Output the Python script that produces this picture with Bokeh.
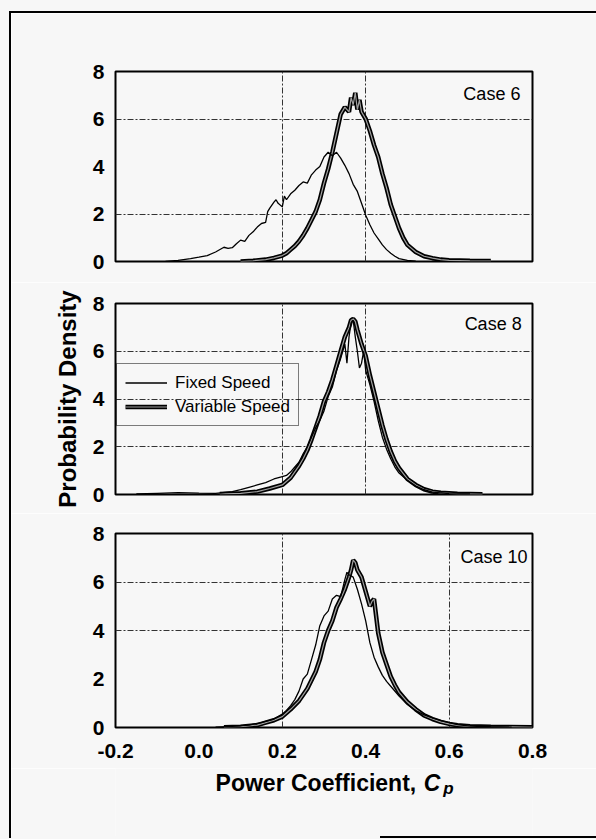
from bokeh.plotting import figure
from bokeh.layouts import column, row
from bokeh.models import (Range1d, FixedTicker, Label, Legend, LegendItem,
                          NumeralTickFormatter, Spacer)
from bokeh.embed import file_html
from bokeh.resources import INLINE

BG = "#f7f7f7"
FONT = "Liberation Sans"

# ---------------- data ----------------
x_ticks = [-0.2, 0.0, 0.2, 0.4, 0.6, 0.8]
y_ticks = [0, 2, 4, 6, 8]

# Case 6
c6_fixed_x = [-0.08, -0.05, -0.02, 0.0, 0.02, 0.04, 0.06, 0.07, 0.08, 0.09, 0.10, 0.11, 0.12, 0.13,
              0.14, 0.15, 0.16, 0.165, 0.17, 0.18, 0.185, 0.19, 0.20, 0.205, 0.21, 0.22, 0.23, 0.24,
              0.25, 0.26, 0.27, 0.28, 0.29, 0.30, 0.31, 0.32, 0.33, 0.34, 0.35, 0.36, 0.37, 0.38,
              0.39, 0.40, 0.41, 0.42, 0.43, 0.44, 0.45, 0.46, 0.47, 0.48, 0.50, 0.52]
c6_fixed_y = [0.0, 0.05, 0.12, 0.18, 0.25, 0.4, 0.6, 0.55, 0.58, 0.75, 0.9, 0.85, 1.1, 1.25,
              1.45, 1.6, 1.65, 2.1, 2.25, 2.5, 2.6, 2.45, 2.3, 2.75, 2.6, 2.85, 3.0, 3.2,
              3.35, 3.3, 3.65, 3.85, 4.0, 4.4, 4.6, 4.45, 4.6, 4.35, 4.05, 3.7, 3.25, 2.95,
              2.45, 1.95, 1.55, 1.2, 0.95, 0.7, 0.5, 0.35, 0.22, 0.12, 0.05, 0.01]
c6_var_x = [0.10, 0.13, 0.16, 0.18, 0.20, 0.21, 0.22, 0.23, 0.24, 0.25, 0.26, 0.27, 0.28, 0.29,
            0.30, 0.31, 0.32, 0.33, 0.34, 0.35, 0.36, 0.365, 0.37, 0.375, 0.38, 0.385, 0.39, 0.40,
            0.41, 0.42, 0.43, 0.44, 0.45, 0.46, 0.47, 0.48, 0.49, 0.50, 0.52, 0.54, 0.56, 0.58,
            0.60, 0.65, 0.70]
c6_var_y = [0.0, 0.03, 0.08, 0.15, 0.25, 0.35, 0.5, 0.65, 0.85, 1.1, 1.4, 1.75, 2.1, 2.6,
            3.3, 3.9, 4.6, 5.4, 6.2, 6.5, 6.3, 6.9, 6.6, 7.1, 6.4, 6.8, 6.3, 6.0,
            5.5, 4.9, 4.4, 3.7, 3.1, 2.4, 1.9, 1.4, 1.0, 0.7, 0.4, 0.22, 0.14, 0.08,
            0.05, 0.03, 0.02]

# Case 8
c8_fixed_x = [-0.15, -0.10, -0.05, 0.0, 0.04, 0.08, 0.10, 0.12, 0.14, 0.16, 0.18, 0.20, 0.21,
              0.22, 0.23, 0.24, 0.25, 0.26, 0.27, 0.28, 0.29, 0.30, 0.31, 0.32, 0.33, 0.34,
              0.35, 0.355, 0.36, 0.365, 0.37, 0.375, 0.38, 0.385, 0.39, 0.395, 0.40, 0.41,
              0.42, 0.43, 0.44, 0.45, 0.46, 0.47, 0.48, 0.50, 0.52, 0.54, 0.56, 0.60, 0.65]
c8_fixed_y = [0.02, 0.05, 0.08, 0.06, 0.05, 0.12, 0.2, 0.3, 0.4, 0.5, 0.65, 0.75, 0.8,
              0.95, 1.15, 1.35, 1.7, 2.0, 2.4, 2.8, 3.1, 3.5, 4.1, 4.5, 5.2, 5.7,
              6.3, 5.5, 6.6, 7.2, 7.3, 6.6, 6.0, 5.3, 5.5, 6.0, 5.2, 4.6,
              3.9, 3.1, 2.4, 1.9, 1.5, 1.15, 0.9, 0.6, 0.35, 0.2, 0.1, 0.04, 0.02]
c8_var_x = [0.05, 0.10, 0.14, 0.17, 0.20, 0.22, 0.24, 0.25, 0.26, 0.27, 0.28, 0.29, 0.30,
            0.31, 0.32, 0.33, 0.34, 0.35, 0.36, 0.365, 0.37, 0.375, 0.38, 0.39, 0.40, 0.41,
            0.42, 0.43, 0.44, 0.45, 0.46, 0.47, 0.48, 0.50, 0.52, 0.54, 0.56, 0.58, 0.62, 0.68]
c8_var_y = [0.02, 0.05, 0.12, 0.25, 0.4, 0.7, 1.2, 1.5, 1.85, 2.3, 2.8, 3.3, 3.9,
            4.3, 4.8, 5.4, 6.0, 6.6, 7.0, 7.3, 7.35, 7.25, 6.9, 6.3, 5.8, 5.0,
            4.3, 3.6, 2.9, 2.3, 1.8, 1.4, 1.1, 0.65, 0.4, 0.22, 0.12, 0.07, 0.03, 0.01]

# Case 10
c10_fixed_x = [0.04, 0.08, 0.12, 0.15, 0.18, 0.20, 0.21, 0.22, 0.23, 0.24, 0.25, 0.26, 0.27,
               0.28, 0.285, 0.29, 0.30, 0.31, 0.32, 0.33, 0.34, 0.35, 0.355, 0.36, 0.37, 0.38,
               0.39, 0.40, 0.41, 0.42, 0.43, 0.44, 0.45, 0.46, 0.48, 0.50, 0.52, 0.54, 0.56,
               0.58, 0.60, 0.62, 0.65, 0.70, 0.75]
c10_fixed_y = [0.01, 0.05, 0.1, 0.2, 0.35, 0.55, 0.7, 0.9, 1.15, 1.5, 2.0, 2.2, 2.8,
               3.4, 3.8, 4.2, 4.6, 4.8, 5.3, 5.45, 5.4, 6.1, 6.4, 6.3, 6.2, 5.7,
               5.1, 4.4, 3.5, 2.9, 2.5, 2.15, 1.9, 1.7, 1.3, 0.95, 0.7, 0.52, 0.4,
               0.28, 0.2, 0.12, 0.06, 0.03, 0.01]
c10_var_x = [0.06, 0.10, 0.14, 0.16, 0.18, 0.20, 0.22, 0.24, 0.26, 0.28, 0.29, 0.30, 0.31,
             0.32, 0.33, 0.34, 0.35, 0.36, 0.365, 0.37, 0.375, 0.38, 0.39, 0.40, 0.41, 0.415,
             0.42, 0.425, 0.43, 0.44, 0.45, 0.46, 0.47, 0.48, 0.50, 0.52, 0.54, 0.56, 0.58,
             0.60, 0.62, 0.65, 0.70, 0.80]
c10_var_y = [0.01, 0.03, 0.1, 0.2, 0.3, 0.45, 0.75, 1.1, 1.6, 2.3, 2.8, 3.5, 4.0,
             4.4, 4.95, 5.3, 5.7, 6.2, 6.5, 6.9, 6.8, 6.5, 6.2, 5.6, 5.0, 5.2,
             5.3, 4.6, 3.9, 3.1, 2.6, 2.1, 1.75, 1.45, 1.05, 0.75, 0.5, 0.35, 0.23,
             0.15, 0.09, 0.05, 0.03, 0.01]

case_names = ["Case 6", "Case 8", "Case 10"]
legend_labels = ["Fixed Speed", "Variable Speed"]
y_label = "Probability Density"
x_label_main = "Power Coefficient,"
x_label_sym = "C"
x_label_sub = "p"

# per-panel visible grid lines (as in the scanned original)
grid_x = [[0.2, 0.4], [0.2, 0.4], [0.2, 0.6]]
grid_y = [[2, 6], [2, 4, 6], [4, 6]]

FIG_W = 585
BL, BR = 104, 64


def make_panel(height, top, bottom, show_x):
    p = figure(width=FIG_W, height=height,
               x_range=Range1d(-0.2, 0.8), y_range=Range1d(0, 8),
               output_backend="svg", toolbar_location=None,
               min_border_left=BL, min_border_right=BR,
               min_border_top=top, min_border_bottom=bottom,
               x_axis_location="below" if show_x else None,
               background_fill_color=BG, border_fill_color=BG)
    p.outline_line_color = "black"
    p.outline_line_width = 2
    p.yaxis.ticker = FixedTicker(ticks=y_ticks)
    p.yaxis.axis_line_color = None
    p.yaxis.major_tick_line_color = None
    p.yaxis.minor_tick_line_color = None
    p.yaxis.major_tick_out = 0
    p.yaxis.major_label_standoff = 11
    p.yaxis.major_label_text_font = FONT
    p.yaxis.major_label_text_font_style = "bold"
    p.yaxis.major_label_text_font_size = "21px"
    p.yaxis.major_label_text_color = "black"
    if show_x:
        p.xaxis.ticker = FixedTicker(ticks=x_ticks)
        p.xaxis.formatter = NumeralTickFormatter(format="0.0")
        p.xaxis.axis_line_color = None
        p.xaxis.major_tick_line_color = None
        p.xaxis.minor_tick_line_color = None
        p.xaxis.major_tick_out = 0
        p.xaxis.major_label_standoff = 16
        p.xaxis.major_label_text_font = FONT
        p.xaxis.major_label_text_font_style = "bold"
        p.xaxis.major_label_text_font_size = "21px"
        p.xaxis.major_label_text_color = "black"
    return p


def style_grid(p, gx, gy):
    for g in p.grid:
        g.grid_line_color = "#333333"
        g.grid_line_width = 1
        g.grid_line_dash = "6 2 2 2"
    p.xgrid.ticker = FixedTicker(ticks=gx)
    p.ygrid.ticker = FixedTicker(ticks=gy)


def draw_curves(p, fx, fy, vx, vy):
    r_v1 = p.line(vx, vy, line_color="black", line_width=4.5)
    r_v2 = p.line(vx, vy, line_color="#a0a0a0", line_width=1.2)
    r_f = p.line(fx, fy, line_color="black", line_width=1.3)
    return r_f, [r_v1, r_v2]


p1 = make_panel(269, 58, 21, False)
p2 = make_panel(231, 21, 19, False)
p3 = make_panel(255, 20, 41, True)

for p, gx, gy in zip([p1, p2, p3], grid_x, grid_y):
    style_grid(p, gx, gy)

draw_curves(p1, c6_fixed_x, c6_fixed_y, c6_var_x, c6_var_y)
rf, rv = draw_curves(p2, c8_fixed_x, c8_fixed_y, c8_var_x, c8_var_y)
draw_curves(p3, c10_fixed_x, c10_fixed_y, c10_var_x, c10_var_y)

# case labels
for p, name, (lx, ly) in zip([p1, p2, p3], case_names,
                             [(0.771, 7.05), (0.774, 7.16), (0.788, 7.05)]):
    p.add_layout(Label(x=lx, y=ly, text=name, text_align="right",
                       text_baseline="middle", text_font=FONT,
                       text_font_size="18px", text_color="black"))

# legend in Case 8 panel
legend = Legend(items=[LegendItem(label=legend_labels[0], renderers=[rf]),
                       LegendItem(label=legend_labels[1], renderers=rv)],
                location=(1, 68))
legend.label_text_font = FONT
legend.label_text_font_size = "17px"
legend.label_text_color = "black"
legend.glyph_width = 42
legend.glyph_height = 21
legend.label_height = 21
legend.label_standoff = 8
legend.padding = 8
legend.spacing = 3
legend.margin = 0
legend.border_line_color = "black"
legend.border_line_width = 1.5
legend.background_fill_alpha = 0
p2.add_layout(legend, "center")

# y label on the middle panel
p2.yaxis.axis_label = y_label
p2.yaxis.axis_label_text_font = FONT
p2.yaxis.axis_label_text_font_style = "bold"
p2.yaxis.axis_label_text_font_size = "24px"
p2.yaxis.axis_label_text_color = "black"
p2.yaxis.axis_label_standoff = 9

# x label strip (same x scale as the panels), italic subscripted symbol
xl = figure(width=FIG_W, height=68, x_range=Range1d(-0.2, 0.8), y_range=Range1d(0, 1),
            output_backend="svg", toolbar_location=None,
            min_border_left=BL, min_border_right=BR, min_border_top=0, min_border_bottom=0,
            x_axis_location=None, y_axis_location=None,
            background_fill_color=BG, border_fill_color=BG, outline_line_color=None)
xl.grid.visible = False
xl.add_layout(Label(x=0.040, y=0.78, text=x_label_main, text_font=FONT,
                    text_font_style="bold", text_font_size="23px",
                    text_baseline="middle", text_color="black"))
xl.add_layout(Label(x=0.539, y=0.78, text=x_label_sym, text_font=FONT,
                    text_font_style="bold italic", text_font_size="23px",
                    text_baseline="middle", text_color="black"))
xl.add_layout(Label(x=0.586, y=0.70, text=x_label_sub, text_font=FONT,
                    text_font_style="bold italic", text_font_size="17px",
                    text_baseline="middle", text_color="black"))

def sp(w, h, c):
    return Spacer(width=w, height=h, styles={"background-color": c})

layout = column(
    sp(596, 11, BG),
    row(sp(9, 2, BG), sp(587, 2, "black")),
    row(sp(9, 823, BG), sp(2, 823, "black"), column(p1, p2, p3, xl)),
    row(sp(9, 2, BG), sp(2, 2, "black"), sp(369, 2, BG), sp(216, 2, "black")),
    sp(596, 1, BG),
)

open("out.html", "w").write(file_html(layout, INLINE))
